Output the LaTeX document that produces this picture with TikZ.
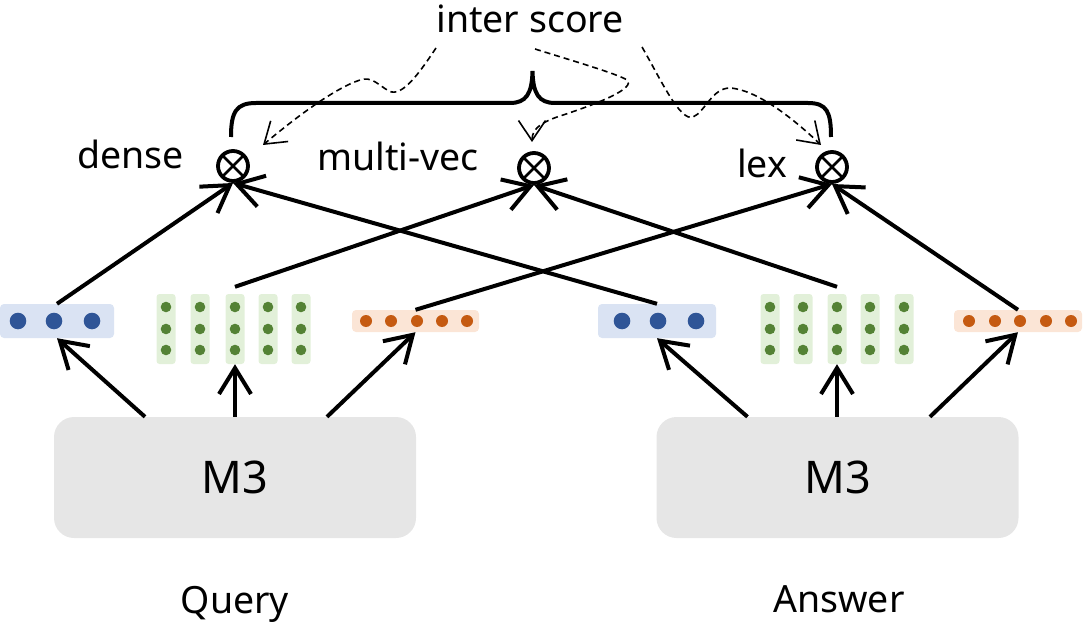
\documentclass[tikz,border=0pt]{standalone}
\usepackage{fontspec}
\setmainfont{Noto Sans}
\usetikzlibrary{arrows.meta}
\definecolor{bluefill}{HTML}{DAE3F3}
\definecolor{bluedot}{HTML}{2F5597}
\definecolor{greenfill}{HTML}{E2F0D9}
\definecolor{greendot}{HTML}{548235}
\definecolor{orangefill}{HTML}{FBE5D6}
\definecolor{orangedot}{HTML}{C55A11}
\definecolor{mfill}{HTML}{E6E6E6}
\begin{document}
\begin{tikzpicture}[x=1pt,y=-1pt,
  lbl/.style={font=\fontsize{37.5}{40}\selectfont, inner sep=0pt},
  vecbox/.style={rectangle, rounded corners=4pt, inner sep=0pt, draw=none},
  mbox/.style={rectangle, rounded corners=20pt, fill=mfill, inner sep=0pt,
    minimum width=362pt, minimum height=121pt, font=\fontsize{45}{50}\selectfont},
  otimes/.style={circle, draw, line width=3.8pt, minimum size=30pt, inner sep=0pt, outer sep=0pt},
  arr/.style={line width=4pt, -{Straight Barb[length=26pt,width=32pt]}},
  darr/.style={line width=1.6pt, dash pattern=on 6pt off 4pt, -{Straight Barb[length=20pt,width=27pt]}},
  brace/.style={line width=4pt}
]
\useasboundingbox (0,0) rectangle (1085,623);

% ---------- query side vectors ----------
\node[vecbox, fill=bluefill, minimum width=114pt, minimum height=34pt] (qd) at (57,321) {};
\foreach \x in {18,54,92} \fill[bluedot] (\x,321) circle[radius=8.3pt];
\foreach \x/\n in {166/qg1,200/qg2,235/qg,268/qg4,301/qg5}{
  \node[vecbox, rounded corners=3pt, fill=greenfill, minimum width=19pt, minimum height=70pt] (\n) at (\x,329) {};
  \foreach \y in {307,329,350} \fill[greendot] (\x,\y) circle[radius=5.3pt];
}
\node[vecbox, fill=orangefill, minimum width=127pt, minimum height=22pt] (qo) at (415.5,321) {};
\foreach \x in {366,391,417,442,467} \fill[orangedot] (\x,321) circle[radius=6pt];

% ---------- answer side vectors ----------
\node[vecbox, fill=bluefill, minimum width=118pt, minimum height=34pt] (ad) at (657,321) {};
\foreach \x in {622,658,696} \fill[bluedot] (\x,321) circle[radius=8.3pt];
\foreach \x/\n in {770/ag1,803/ag2,837/ag,870/ag4,904/ag5}{
  \node[vecbox, rounded corners=3pt, fill=greenfill, minimum width=19pt, minimum height=70pt] (\n) at (\x,329) {};
  \foreach \y in {307,329,350} \fill[greendot] (\x,\y) circle[radius=5.3pt];
}
\node[vecbox, fill=orangefill, minimum width=128pt, minimum height=22pt] (ao) at (1018,321) {};
\foreach \x in {969,995,1020,1046,1071} \fill[orangedot] (\x,321) circle[radius=6pt];

% ---------- encoders ----------
\node[mbox] (qm) at (235,477.5) {M3};
\node[mbox] (am) at (837.5,477.5) {M3};
\node[lbl, anchor=base] (ql) at (235,613) {Query};
\node[lbl, anchor=base] (al) at (839,612) {Answer};

% ---------- score operators ----------
\node[otimes] (o1) at (233,166) {};
\node[otimes] (o2) at (534,168) {};
\node[otimes] (o3) at (832,167) {};
\foreach \o in {o1,o2,o3}
  \draw[line width=2.8pt] (\o.north west) -- (\o.south east) (\o.north east) -- (\o.south west);

\node[lbl, anchor=base west] (dl) at (77,169) {dense};
\node[lbl, anchor=base west] (ml) at (317,171) {multi-vec};
\node[lbl, anchor=base west] (ll) at (737,178) {lex};
\node[lbl, anchor=base] (il) at (530,33) {inter score};

% ---------- arrows from encoders ----------
\draw[arr] ([xshift=-90pt]qm.north) -- (qd.south);
\draw[arr] (qm.north) -- (qg.south);
\draw[arr] ([xshift=92pt]qm.north) -- (qo.south);
\draw[arr] ([xshift=-90pt]am.north) -- (ad.south);
\draw[arr] ([xshift=-0.5pt]am.north) -- (ag.south);
\draw[arr] ([xshift=92.5pt]am.north) -- (ao.south);

% ---------- arrows to operators ----------
\draw[arr] (qd.north) -- ([yshift=-2pt]o1.south);
\draw[arr] ([yshift=7pt]qg.north) -- ([yshift=-2pt]o2.south);
\draw[arr] (qo.north) -- ([yshift=-2pt]o3.south);
\draw[arr] (ad.north) -- ([yshift=-2pt]o1.south);
\draw[arr] ([yshift=7pt]ag.north) -- ([yshift=-2pt]o2.south);
\draw[arr] (ao.north) -- ([yshift=-2pt]o3.south);

% ---------- brace ----------
\draw[brace] (231,137) .. controls (231,112) and (236,103) .. (256,103) -- (510,103)
  .. controls (526,103) and (532,94) .. (532.5,71)
  .. controls (533,94) and (539,103) .. (555,103) -- (808,103)
  .. controls (827,103) and (831,112) .. (831,137);

% ---------- dashed arrows ----------
\coordinate (s1) at (436,48);
\coordinate (e1) at (263,145);
\coordinate (s2) at (535,49);
\coordinate (e2) at (532,142);
\coordinate (s3) at (642,47);
\coordinate (e3) at (821,145);
\draw[darr] (s1) .. controls (420,72) and (402,98) .. (389,91)
  .. controls (378,85) and (372,76) .. (360,80)
  .. controls (335,88) and (295,118) .. (e1);
\draw[darr] (s2) .. controls (570,60) and (618,74) .. (627,80)
  .. controls (636,88) and (600,103) .. (560,116)
  .. controls (545,121) and (532,127) .. (e2);
\draw[darr] (s3) .. controls (660,78) and (680,122) .. (693,117)
  .. controls (705,112) and (712,88) .. (730,88)
  .. controls (760,90) and (800,125) .. (e3);
\end{tikzpicture}
\end{document}
